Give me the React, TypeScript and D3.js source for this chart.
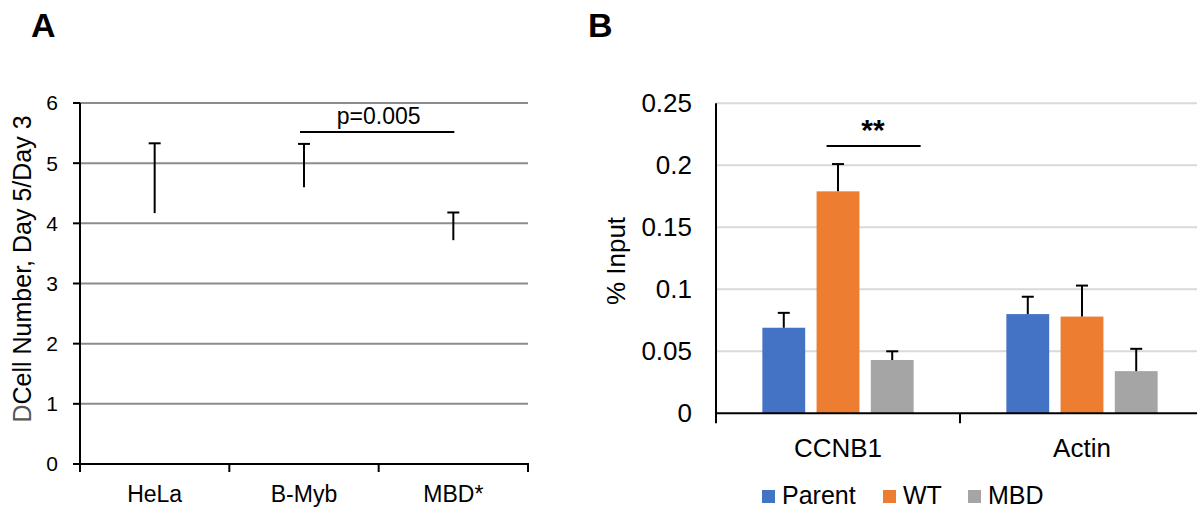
import * as d3 from 'd3'

// Panel A: cell growth ratio
const growthCategories = ['HeLa', 'B-Myb', 'MBD*']
const growthMeans = [4.17, 4.6, 3.72]
const growthErrors = [1.16, 0.72, 0.46]
const growthTicks = [0, 1, 2, 3, 4, 5, 6]

// Panel B: ChIP % input
const chipGenes = ['CCNB1', 'Actin']
const chipSeries = ['Parent', 'WT', 'MBD']
const chipColors = ['#4472C4', '#ED7D31', '#A5A5A5']
const parentValues = [0.069, 0.08]
const wtValues = [0.179, 0.078]
const mbdValues = [0.043, 0.034]
const parentErrors = [0.012, 0.014]
const wtErrors = [0.022, 0.025]
const mbdErrors = [0.007, 0.018]
const chipTicks = [0, 0.05, 0.1, 0.15, 0.2, 0.25]
const chipTickLabels = ['0', '0.05', '0.1', '0.15', '0.2', '0.25']

const FONT = '"Liberation Sans", Arial, Helvetica, sans-serif'

function PanelA() {
  const x = d3.scaleBand().domain(growthCategories).range([80, 528])
  const y = d3.scaleLinear().domain([0, 6]).range([464, 103])
  const cx = (c: string) => (x(c) ?? 0) + x.bandwidth() / 2
  const bounds = [80, ...growthCategories.map((c) => (x(c) ?? 0) + x.bandwidth())]

  return (
    <g fontFamily={FONT}>
      <text x={31} y={37} fontSize={34} fontWeight="bold">A</text>
      {growthTicks.slice(1).map((t) => (
        <line key={t} x1={80} x2={528} y1={y(t)} y2={y(t)} stroke="#8c8c8c" strokeWidth={2} />
      ))}
      {growthTicks.map((t) => (
        <g key={t}>
          <line x1={73} x2={80} y1={y(t)} y2={y(t)} stroke="#000" strokeWidth={2} />
          <text x={58} y={y(t)} dy="0.35em" textAnchor="end" fontSize={21}>{t}</text>
        </g>
      ))}
      <line x1={80} x2={80} y1={y(6)} y2={y(0) + 1} stroke="#000" strokeWidth={2} />
      <line x1={73} x2={529} y1={y(0)} y2={y(0)} stroke="#000" strokeWidth={2} />
      {bounds.map((b) => (
        <line key={b} x1={b} x2={b} y1={y(0)} y2={y(0) + 8} stroke="#000" strokeWidth={2} />
      ))}
      {growthCategories.map((c) => (
        <text key={c} x={cx(c)} y={502} textAnchor="middle" fontSize={23}>{c}</text>
      ))}
      {growthCategories.map((c, i) => (
        <g key={c} stroke="#000" strokeWidth={2}>
          <line x1={cx(c)} x2={cx(c)} y1={y(growthMeans[i])} y2={y(growthMeans[i] + growthErrors[i])} />
          <line x1={cx(c) - 6} x2={cx(c) + 6} y1={y(growthMeans[i] + growthErrors[i])} y2={y(growthMeans[i] + growthErrors[i])} />
        </g>
      ))}
      <line x1={cx('B-Myb') - 4} x2={cx('MBD*') + 1} y1={132} y2={132} stroke="#000" strokeWidth={2} />
      <text x={(cx('B-Myb') + cx('MBD*')) / 2} y={124} textAnchor="middle" fontSize={23}>p=0.005</text>
      <text transform="translate(31,269) rotate(-90)" textAnchor="middle" fontSize={25}>
        <tspan fill="#555">D</tspan>Cell Number, Day 5/Day 3
      </text>
    </g>
  )
}

function PanelB() {
  const x = d3.scaleBand().domain(chipGenes).range([716, 1204])
  const bw = x.bandwidth()
  const xs = d3.scaleBand().domain(chipSeries).range([bw * 0.19, bw * 0.81]).paddingInner(0.21)
  const y = d3.scaleLinear().domain([0, 0.25]).range([413.3, 103.3])
  const values = [parentValues, wtValues, mbdValues]
  const errors = [parentErrors, wtErrors, mbdErrors]

  const wtX = (x('CCNB1') ?? 0) + (xs('WT') ?? 0)
  const mbdX = (x('CCNB1') ?? 0) + (xs('MBD') ?? 0)

  return (
    <g fontFamily={FONT}>
      <text x={588} y={37} fontSize={34} fontWeight="bold">B</text>
      {chipTicks.slice(1).map((t) => (
        <line key={t} x1={716} x2={1204} y1={y(t)} y2={y(t)} stroke="#d9d9d9" strokeWidth={2} />
      ))}
      {chipTicks.map((t, i) => (
        <text key={t} x={692} y={y(t)} dy="0.35em" textAnchor="end" fontSize={26}>{chipTickLabels[i]}</text>
      ))}
      {chipGenes.map((g, gi) =>
        chipSeries.map((s, si) => {
          const bx = (x(g) ?? 0) + (xs(s) ?? 0)
          const v = values[si][gi]
          const top = y(v + errors[si][gi])
          const mid = bx + xs.bandwidth() / 2
          return (
            <g key={g + s}>
              <rect x={bx} y={y(v)} width={xs.bandwidth()} height={y(0) - y(v)} fill={chipColors[si]} />
              <line x1={mid} x2={mid} y1={y(v)} y2={top} stroke="#000" strokeWidth={2} />
              <line x1={mid - 6} x2={mid + 6} y1={top} y2={top} stroke="#000" strokeWidth={2} />
            </g>
          )
        })
      )}
      <line x1={716} x2={716} y1={y(0.25)} y2={y(0) + 10} stroke="#000" strokeWidth={2} />
      <line x1={716} x2={1204} y1={y(0)} y2={y(0)} stroke="#000" strokeWidth={2} />
      {chipGenes.map((g) => (
        <line key={g} x1={(x(g) ?? 0) + bw} x2={(x(g) ?? 0) + bw} y1={y(0)} y2={y(0) + 10} stroke="#000" strokeWidth={2} />
      ))}
      {chipGenes.map((g) => (
        <text key={g} x={(x(g) ?? 0) + bw / 2} y={457} textAnchor="middle" fontSize={26}>{g}</text>
      ))}
      <line x1={wtX + 10} x2={mbdX + xs.bandwidth() + 7} y1={146} y2={146} stroke="#000" strokeWidth={2} />
      <text x={873} y={140} textAnchor="middle" fontSize={30} fontWeight="bold">**</text>
      <text transform="translate(625,261) rotate(-90)" textAnchor="middle" fontSize={26}>% Input</text>
      {chipSeries.map((s, i) => {
        const lx = [762, 883, 968][i]
        return (
          <g key={s}>
            <rect x={lx} y={490} width={13} height={13} fill={chipColors[i]} />
            <text x={lx + 20} y={504} fontSize={25}>{s}</text>
          </g>
        )
      })}
    </g>
  )
}

export default function App() {
  return (
    <svg
      width={1197}
      height={510}
      style={{ position: 'absolute', left: 0, top: 0, background: '#fff' }}
    >
      <rect width={1197} height={510} fill="#fff" />
      <PanelA />
      <PanelB />
    </svg>
  )
}
